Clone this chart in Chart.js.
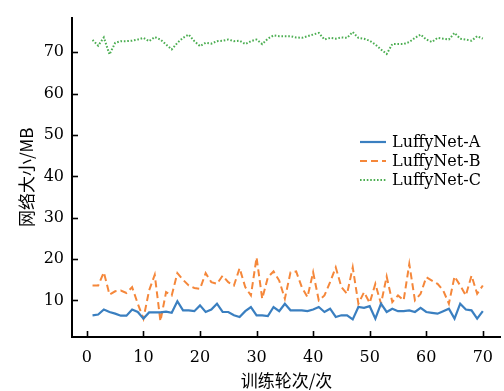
<!DOCTYPE html>
<html>
<head>
<meta charset="utf-8">
<script src="https://cdn.jsdelivr.net/npm/chart.js@4/dist/chart.umd.min.js"></script>
<style>
html,body{margin:0;padding:0;background:#fff;}
#wrap{width:504px;height:391px;position:relative;}
</style>
</head>
<body>
<div id="wrap"><canvas id="c" width="504" height="391"></canvas></div>
<script>
const epochs = [1,2,3,4,5,6,7,8,9,10,11,12,13,14,15,16,17,18,19,20,21,22,23,24,25,26,27,28,29,30,31,32,33,34,35,36,37,38,39,40,41,42,43,44,45,46,47,48,49,50,51,52,53,54,55,56,57,58,59,60,61,62,63,64,65,66,67,68,69,70];
const netA = [6.4,6.6,7.8,7.2,6.8,6.3,6.3,7.8,7.2,5.6,7.1,7.1,7.1,7.3,7.0,9.8,7.6,7.6,7.4,8.8,7.2,7.8,9.2,7.2,7.2,6.4,6.0,7.4,8.4,6.4,6.4,6.2,8.4,7.4,9.2,7.6,7.6,7.6,7.4,7.8,8.4,7.2,8.0,6.0,6.4,6.4,5.4,8.4,8.2,8.6,5.6,9.2,7.2,8.0,7.4,7.4,7.6,7.2,8.2,7.2,7.0,6.8,7.4,8.0,5.6,9.2,7.8,7.6,5.6,7.4];
const netB = [13.6,13.6,16.8,11.4,12.2,12.4,11.8,13.2,9.2,5.6,12.4,16.2,5.0,12.0,11.2,16.6,15.0,13.6,13.0,12.8,16.6,14.4,14.0,16.0,14.4,13.6,17.8,13.2,11.2,20.4,10.4,15.6,17.0,14.8,10.4,16.8,17.0,13.2,10.8,16.8,10.0,11.2,14.4,18.0,13.2,11.6,18.0,9.2,12.0,9.4,14.0,9.2,15.8,9.6,11.2,10.0,18.8,10.0,11.6,15.6,14.8,14.0,12.4,9.2,15.8,13.6,11.2,16.0,11.6,13.6];
const netC = [73.0,71.6,73.6,69.5,72.3,72.7,72.7,72.8,73.1,73.5,72.7,73.7,73.1,71.9,70.7,72.3,73.5,74.3,72.7,71.5,72.3,72.1,72.7,72.8,73.1,72.7,72.8,72.0,72.7,73.1,72.0,73.3,74.1,73.9,73.9,73.9,73.6,73.5,73.9,74.3,74.7,73.1,73.5,73.3,73.6,73.5,74.9,73.5,73.3,72.8,71.9,70.7,69.6,72.0,72.0,72.0,72.5,73.5,74.3,73.1,72.5,73.5,73.3,73.1,74.7,73.3,73.1,72.8,73.9,73.3];
const seriesNames = ['LuffyNet-A','LuffyNet-B','LuffyNet-C'];
const xTicks = [0,10,20,30,40,50,60,70];
const yTicks = [10,20,30,40,50,60,70];
const xLabel = '训练轮次/次';
const yLabel = '网络大小/MB';

const FONT = '"DejaVu Serif", "Liberation Serif", serif';
const CJK = '"Noto Sans CJK SC", sans-serif';

function pts(vals){ return epochs.map((e,i)=>({x:e,y:vals[i]})); }

const styles = [
  {color:'#3a7fc0', dash:[], width:2.2},
  {color:'#f5873a', dash:[7,4], width:2.0},
  {color:'#4cae52', dash:[1.6,1.8], width:2.0}
];
const seriesVals = [netA, netB, netC];

const inwardTicks = {
  id:'inwardTicks',
  afterDatasetsDraw(chart){
    const ctx = chart.ctx, xs = chart.scales.x, ys = chart.scales.y, a = chart.chartArea;
    ctx.save();
    ctx.strokeStyle = '#000'; ctx.lineWidth = 1.6;
    xTicks.forEach(v=>{ const p = Math.round(xs.getPixelForValue(v))+0.5; ctx.beginPath(); ctx.moveTo(p,a.bottom); ctx.lineTo(p,a.bottom-6); ctx.stroke(); });
    yTicks.forEach(v=>{ const p = Math.round(ys.getPixelForValue(v))+0.5; ctx.beginPath(); ctx.moveTo(a.left,p); ctx.lineTo(a.left+6,p); ctx.stroke(); });
    // legend
    const lx = 360, tx = 392, rows = [142,161,180];
    ctx.font = '16px ' + FONT;
    ctx.textBaseline = 'middle';
    ctx.textAlign = 'left';
    chart.data.datasets.forEach((ds,i)=>{
      ctx.strokeStyle = ds.borderColor; ctx.lineWidth = ds.borderWidth;
      ctx.setLineDash(ds.borderDash || []);
      ctx.beginPath(); ctx.moveTo(lx, rows[i]); ctx.lineTo(lx+26, rows[i]); ctx.stroke();
      ctx.setLineDash([]);
      ctx.fillStyle = '#000';
      ctx.fillText(ds.label, tx, rows[i]+1);
    });
    ctx.restore();
  }
};

new Chart(document.getElementById('c'), {
  type:'line',
  data:{
    datasets: seriesVals.map((v,i)=>({
      label: seriesNames[i],
      data: pts(v),
      borderColor: styles[i].color,
      backgroundColor: styles[i].color,
      borderDash: styles[i].dash,
      borderWidth: styles[i].width,
      pointRadius:0,
      tension:0,
      fill:false
    }))
  },
  options:{
    responsive:false,
    animation:false,
    layout:{padding:{top:14,right:0,left:0,bottom:0}},
    plugins:{legend:{display:false}, tooltip:{enabled:false}},
    scales:{
      x:{
        type:'linear', min:-2.63, max:73.2,
        afterBuildTicks(s){ s.ticks = xTicks.map(v=>({value:v})); },
        afterFit(s){ s.height = 54; },
        grid:{display:false, drawTicks:false},
        border:{display:true, color:'#000', width:2},
        ticks:{color:'#000', font:{family:FONT, size:16}, padding:11, maxRotation:0},
        title:{display:true, text:xLabel, color:'#000', font:{family:CJK, size:17}, padding:{top:0,bottom:0}}
      },
      y:{
        type:'linear', min:1.15, max:78.4,
        afterBuildTicks(s){ s.ticks = yTicks.map(v=>({value:v})); },
        afterFit(s){ s.width = 72; },
        grid:{display:false, drawTicks:false},
        border:{display:true, color:'#000', width:2},
        ticks:{color:'#000', font:{family:FONT, size:16}, padding:8},
        title:{display:true, text:yLabel, color:'#000', font:{family:CJK, size:17}, padding:{top:16,bottom:0}}
      }
    }
  },
  plugins:[inwardTicks]
});
</script>
</body>
</html>
